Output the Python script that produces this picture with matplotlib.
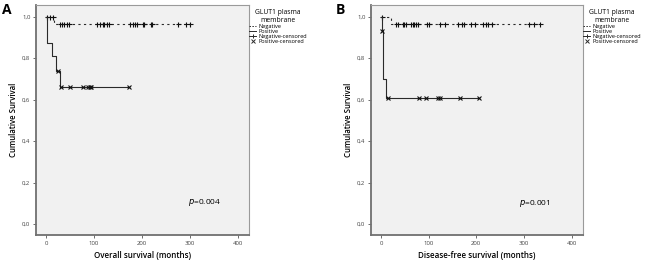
import matplotlib
matplotlib.use('Agg')
import matplotlib.pyplot as plt
from matplotlib.lines import Line2D

# ---------------- data ----------------
# Panel A: overall survival
a_neg_times = [0, 17]
a_neg_surv = [1.0, 0.965]
a_neg_end = 301
a_neg_cens = [2, 8, 14, 29, 34, 38, 43, 48, 106, 113, 118, 122, 127, 132,
              175, 181, 186, 191, 202, 205, 219, 221, 275, 292, 301]
a_pos_times = [0, 1, 3, 12, 21, 30]
a_pos_surv = [1.0, 0.94, 0.875, 0.81, 0.74, 0.66]
a_pos_end = 173
a_pos_cens = [24, 31, 49, 78, 88, 92, 94, 173]
a_pval = "0.004"

# Panel B: disease-free survival
b_neg_times = [0, 21]
b_neg_surv = [1.0, 0.965]
b_neg_end = 334
b_neg_cens = [2, 32, 35, 46, 49, 53, 63, 67, 70, 74, 77, 97, 101, 124, 135,
              161, 169, 175, 189, 197, 215, 220, 225, 233, 310, 322, 334]
b_pos_times = [0, 1.5, 4, 11]
b_pos_surv = [1.0, 0.93, 0.70, 0.607]
b_pos_end = 206
b_pos_cens = [3, 14, 79, 95, 119, 123, 165, 206]
b_pval = "0.001"

x_ticks = [0, 100, 200, 300, 400]
y_ticks = [0.0, 0.2, 0.4, 0.6, 0.8, 1.0]
y_ticklabels = ['0,0', '0,2', '0,4', '0,6', '0,8', '1,0']
legend_title = "GLUT1 plasma\nmembrane"
legend_labels = ["Negative", "Positive", "Negative-censored", "Positive-censored"]
ylabel = "Cumulative Survival"
xlabels = ["Overall survival (months)", "Disease-free survival (months)"]
panel_letters = ["A", "B"]

FONT = ['Open Sans', 'DejaVu Sans']
plt.rcParams['font.family'] = FONT

W, H = 650, 261
fig = plt.figure(figsize=(W / 100, H / 100), dpi=100)
fig.patch.set_facecolor('white')

LINE_C = '#2a2a2a'


def level_at(times, surv, t):
    v = surv[0]
    for tt, s in zip(times, surv):
        if tt <= t:
            v = s
    return v


def draw_panel(rect, neg, pos, pval, pxy, xlabel, letter, letter_x, legend_x):
    ax = fig.add_axes(rect)
    ax.set_facecolor('#f1f1f1')
    for (times, surv, end, cens, ls, mk, ms) in [
        (*neg, (0, (2.0, 3.0)), '+', 3.6),
        (*pos, '-', 'x', 2.3),
    ]:
        xs = list(times) + [end]
        ys = list(surv) + [surv[-1]]
        ax.step(xs, ys, where='post', color=LINE_C, lw=0.8, linestyle=ls)
        cy = [level_at(times, surv, t) for t in cens]
        ax.plot(cens, cy, linestyle='none', marker=mk, ms=ms, mew=0.8,
                color='#111111')
    ax.set_xlim(-21, 424)
    ax.set_ylim(-0.053, 1.056)
    ax.set_xticks(x_ticks)
    ax.set_xticklabels([str(v) for v in x_ticks])
    ax.set_yticks(y_ticks)
    ax.set_yticklabels(y_ticklabels)
    ax.tick_params(axis='both', direction='out', length=2.5, width=0.6,
                   color='#555555', labelsize=4.3, labelcolor='#444444', pad=1.5)
    for s in ['left', 'bottom']:
        ax.spines[s].set_color('#707070')
        ax.spines[s].set_linewidth(1.3)
    for s in ['top', 'right']:
        ax.spines[s].set_color('#9a9a9a')
        ax.spines[s].set_linewidth(0.8)
    ax.set_xlabel(xlabel, fontsize=5.8, fontweight='semibold', labelpad=4)
    ax.set_ylabel(ylabel, fontsize=5.6, fontweight='semibold', labelpad=3)
    ax.text(pxy[0], pxy[1], r"$p$=" + pval, transform=ax.transAxes,
            fontsize=6, ha='left', va='center')
    fig.text(letter_x / W, 1 - 10 / H, letter, fontsize=10, fontweight='bold',
             ha='left', va='center')
    handles = [
        Line2D([], [], color=LINE_C, lw=0.7, linestyle=(0, (1.5, 1.5))),
        Line2D([], [], color=LINE_C, lw=0.7),
        Line2D([], [], color=LINE_C, lw=0.7, marker='+', ms=3.5, mew=0.7),
        Line2D([], [], color='none', marker='x', ms=2.3, mew=0.7,
               markeredgecolor=LINE_C),
    ]
    leg = fig.legend(handles, legend_labels, title=legend_title,
                     loc='upper left', bbox_to_anchor=(legend_x / W, 1 - 9 / H),
                     frameon=False, fontsize=4.1, title_fontsize=4.9,
                     handlelength=1.3, handletextpad=0.3, labelspacing=0.0,
                     borderpad=0, borderaxespad=0)
    leg.get_title().set_multialignment('center')
    return ax


axA = draw_panel([36 / W, 26 / H, 213 / W, 230 / H],
                 (a_neg_times, a_neg_surv, a_neg_end, a_neg_cens),
                 (a_pos_times, a_pos_surv, a_pos_end, a_pos_cens),
                 a_pval, (0.714, 0.143), xlabels[0], panel_letters[0], 2, 249)
axB = draw_panel([371 / W, 26 / H, 212 / W, 230 / H],
                 (b_neg_times, b_neg_surv, b_neg_end, b_neg_cens),
                 (b_pos_times, b_pos_surv, b_pos_end, b_pos_cens),
                 b_pval, (0.698, 0.135), xlabels[1], panel_letters[1], 336, 583)

fig.savefig('out.png', dpi=100, facecolor='white')
